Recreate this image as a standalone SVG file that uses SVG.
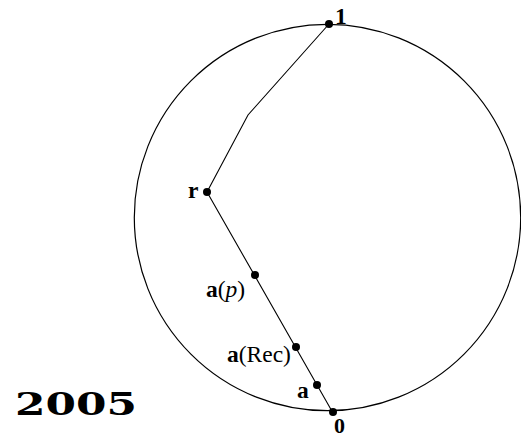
<svg xmlns="http://www.w3.org/2000/svg" width="521" height="437" viewBox="0 0 521 437">
<style>
.c{fill:none;stroke:#000;stroke-width:1.2}
.l{fill:none;stroke:#000;stroke-width:1.1}
.d{fill:#000}
text{font-family:"Liberation Serif","Times New Roman",serif;font-size:23.5px;fill:#000}
.b{font-weight:bold}
.i{font-style:italic}
</style>
<rect width="521" height="437" fill="#fff"/>
<circle id="circle" class="c" cx="327.5" cy="217.5" r="193.2"/>
<g id="connectors">
<polyline class="l" points="329,24 248,115 207,192 333,413"/>
</g>
<g id="n1"><circle class="d" cx="329" cy="24" r="4"/><text class="b" x="335" y="24">1</text></g>
<g id="nr"><circle class="d" cx="207" cy="192" r="4"/><text class="b" x="188" y="198">r</text></g>
<g id="nap"><circle class="d" cx="255" cy="275" r="4"/><text x="206" y="297"><tspan class="b">a</tspan>(<tspan class="i">p</tspan>)</text></g>
<g id="narec"><circle class="d" cx="296" cy="347" r="4"/><text x="227" y="362"><tspan class="b">a</tspan>(Rec)</text></g>
<g id="na"><circle class="d" cx="317" cy="385" r="4"/><text class="b" x="297" y="398">a</text></g>
<g id="n0"><circle class="d" cx="333" cy="412" r="4"/><text class="b" x="334" y="433" style="font-size:22px">0</text></g>
<text x="15" y="415" style="font-family:'DejaVu Serif',serif;font-size:32px;font-weight:bold" textLength="122" lengthAdjust="spacingAndGlyphs">2005</text>
</svg>
